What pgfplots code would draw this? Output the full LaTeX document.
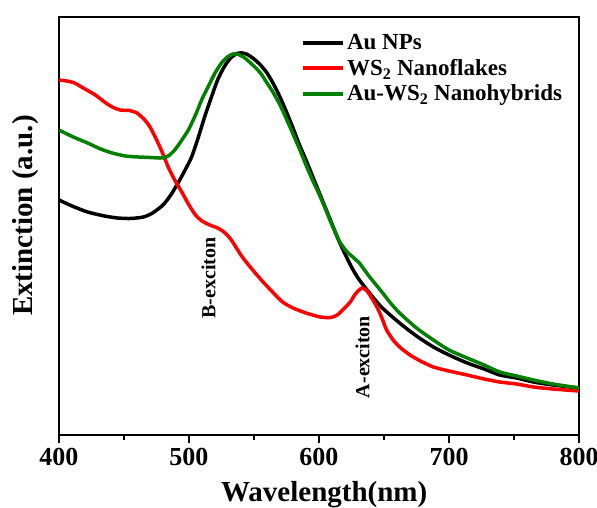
\documentclass[border=0pt]{standalone}
\usepackage{fontspec}
\setmainfont{Liberation Serif}
\usepackage{pgfplots}
\pgfplotsset{compat=1.18}

\definecolor{auGreen}{RGB}{0,128,0}
\definecolor{wsRed}{RGB}{255,0,0}

\begin{document}
\begin{tikzpicture}
\useasboundingbox (-59pt,-73pt) rectangle (538pt,435pt);
\begin{axis}[
  at={(0,0)}, anchor=south west,
  scale only axis, width=520pt, height=418pt,
  xmin=400, xmax=800, ymin=0, ymax=418,
  axis line style={line width=2.2pt},
  xtick={400,500,600,700,800},
  minor xtick={450,550,650,750},
  xtick pos=bottom, ytick=\empty,
  tick align=outside,
  major tick length=8pt, minor tick length=5pt,
  every tick/.style={line width=2pt, black},
  tick label style={font=\bfseries\fontsize{26}{26}\selectfont},
  /pgf/number format/assume math mode=true,
  /pgf/number format/set thousands separator={},
  xticklabel style={yshift=-2pt},
  xlabel={Wavelength(nm)},
  ylabel={Extinction (a.u.)},
  every axis x label/.style={at={(rel axis cs:0.51,0)}, yshift=-60pt, anchor=center,
    font=\bfseries\fontsize{29}{29}\selectfont},
  every axis y label/.style={at={(rel axis cs:-0.065,0.525)}, rotate=90, anchor=center,
    font=\bfseries\fontsize{29}{29}\selectfont},
  legend style={draw=none, fill=none, at={(rel axis cs:0.466,0.963)}, anchor=north west,
    font=\bfseries\fontsize{23}{23}\selectfont, inner sep=0pt, row sep=4pt,
    nodes={inner xsep=2pt}},
  legend cell align=left,
  legend image code/.code={\draw[#1, line width=3.5pt] (0pt,0pt) -- (40pt,0pt);},
  every axis plot/.append style={line width=3.5pt, line join=round},
]
% Au NPs
\addplot[black, smooth, tension=0.4] coordinates {
(400,235) (410,229) (422,223) (435,219) (445,217) (455,216.5) (465,218) (472,222)
(480,230) (486,240) (492,253) (497,265) (502,278) (507,297) (512,318) (517,337)
(522,355) (527,368) (532,377) (537,381.5) (541,382) (545,380.5) (550,376) (555,370)
(560,362) (565,351) (570,338) (575,323) (580,307) (585,290) (590,275) (595,259)
(600,243) (605,227) (610,211) (615,195) (620,181) (625,168) (630,157) (637,145)
(648,128) (662,112) (675,99) (688,88) (700,80) (714,72) (727,66) (739,60)
(752,57) (765,53) (780,50) (800,47)
};
\addlegendentry{Au NPs}
% WS2 nanoflakes
\addplot[wsRed, smooth, tension=0.4] coordinates {
(400,355) (406,354) (412,352) (420,346) (428,340) (435,333) (441,328) (447,325)
(454,324.5) (460,322) (466,315) (470,308) (474,298) (479,284) (484,268) (489,255)
(494,244) (500,230) (505,220) (510,214) (516,210) (522,207) (527,203) (532,196)
(537,186) (541,178) (549,165) (557,153) (565,142) (572,133) (580,127) (590,122)
(601,118) (609,117.5) (614,120) (619,126) (624,133) (628,141) (633,147) (637,144)
(641,136) (645,127) (649,115) (652,105) (657,95) (662,88) (670,80) (678,74)
(688,68) (700,64) (714,60) (727,56) (739,53) (752,51) (765,48) (780,46) (800,44)
};
\addlegendentry{WS\textsubscript{2} Nanoflakes}
% Au-WS2 nanohybrids
\addplot[auGreen, smooth, tension=0.4] coordinates {
(400,305) (411,298) (422,292) (432,286) (441,282) (451,279) (461,278) (470,277.5)
(479,277) (484,279) (489,285) (494,294) (499.5,305) (505,320) (509.7,335) (515,349)
(520,362) (525,372) (530,378.5) (534,381) (538,380.5) (543,377) (549,370) (555,362)
(560,352) (565,342) (570,330) (575,316) (580,301) (585,286) (590,270) (595,255)
(600,241) (605,226) (610,210) (616,193) (621,184) (626,178) (631,172) (635,165)
(639,158) (644,150) (649,142) (655,132) (662,122) (675,107) (688,95) (700,85)
(714,77) (727,70) (739,63) (752,59) (765,55) (780,51) (800,47)
};
\addlegendentry{Au-WS\textsubscript{2} Nanohybrids}
\node[rotate=90, font=\bfseries\fontsize{20}{20}\selectfont] at (axis cs:515,157) {B-exciton};
\node[rotate=90, font=\bfseries\fontsize{20}{20}\selectfont] at (axis cs:633.5,78) {A-exciton};
\end{axis}
\end{tikzpicture}
\end{document}
